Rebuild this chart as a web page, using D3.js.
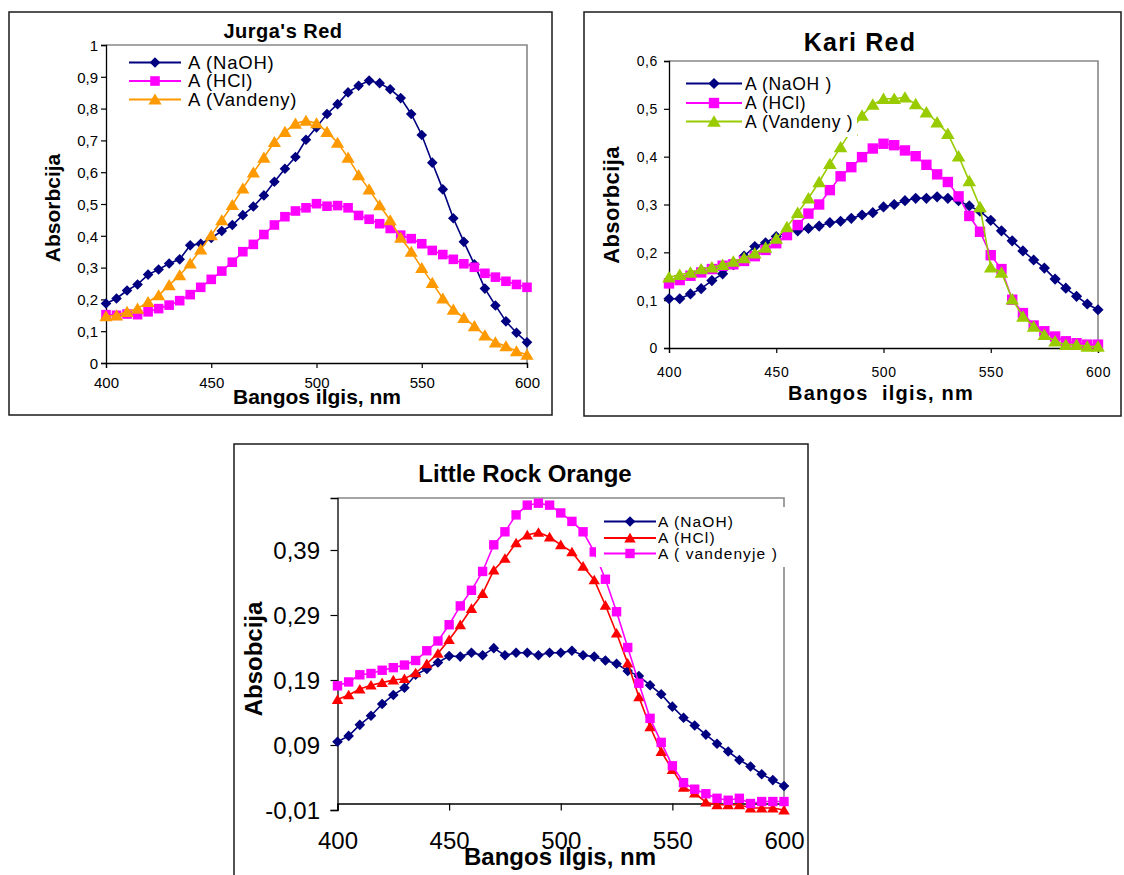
<!DOCTYPE html>
<html>
<head>
<meta charset="utf-8">
<script src="https://cdn.jsdelivr.net/npm/d3@7"></script>
<style>
  html, body { margin: 0; padding: 0; background: #fff; }
  svg { display: block; }
  text { font-family: "Liberation Sans", Arial, sans-serif; fill: #000; }
</style>
</head>
<body>
<svg id="chart" width="1124" height="875"></svg>
<script>
// Wavelength grid, nm
const wavelengths = [400, 405, 410, 415, 420, 425, 430, 435, 440, 445, 450, 455, 460, 465, 470, 475, 480,
  485, 490, 495, 500, 505, 510, 515, 520, 525, 530, 535, 540, 545, 550, 555, 560, 565, 570, 575, 580,
  585, 590, 595, 600];
const xTicks = [400, 450, 500, 550, 600];

// Jurga's Red absorbance
const jurgaNaOH = [0.187, 0.203, 0.228, 0.247, 0.278, 0.294, 0.313, 0.326, 0.370, 0.375, 0.393, 0.415, 0.434,
  0.465, 0.492, 0.527, 0.570, 0.611, 0.648, 0.702, 0.741, 0.783, 0.814, 0.851, 0.872, 0.888, 0.880, 0.861,
  0.833, 0.783, 0.717, 0.630, 0.546, 0.455, 0.381, 0.310, 0.234, 0.181, 0.131, 0.095, 0.065];
const jurgaHCl = [0.152, 0.150, 0.154, 0.152, 0.161, 0.171, 0.182, 0.196, 0.215, 0.238, 0.263, 0.289, 0.317,
  0.350, 0.373, 0.404, 0.434, 0.460, 0.478, 0.488, 0.501, 0.493, 0.495, 0.488, 0.464, 0.452, 0.438, 0.423,
  0.402, 0.391, 0.375, 0.354, 0.341, 0.326, 0.312, 0.301, 0.282, 0.270, 0.257, 0.247, 0.238];
const jurgaVandeny = [0.147, 0.150, 0.161, 0.171, 0.192, 0.213, 0.245, 0.276, 0.313, 0.357, 0.402, 0.449, 0.497,
  0.549, 0.599, 0.646, 0.695, 0.727, 0.753, 0.762, 0.754, 0.727, 0.693, 0.646, 0.591, 0.546, 0.496, 0.449,
  0.394, 0.350, 0.299, 0.252, 0.203, 0.168, 0.142, 0.116, 0.087, 0.065, 0.053, 0.037, 0.026];
const jurgaYTicks = [0, 0.1, 0.2, 0.3, 0.4, 0.5, 0.6, 0.7, 0.8, 0.9, 1];
const jurgaLegend = ["A (NaOH)", "A (HCl)", "A (Vandeny)"];

// Kari Red absorbance
const kariNaOH = [0.103, 0.103, 0.113, 0.124, 0.141, 0.155, 0.174, 0.192, 0.212, 0.220, 0.233, 0.243, 0.245,
  0.250, 0.255, 0.262, 0.265, 0.271, 0.278, 0.283, 0.295, 0.300, 0.308, 0.313, 0.313, 0.316, 0.313, 0.308,
  0.297, 0.286, 0.267, 0.245, 0.224, 0.203, 0.184, 0.167, 0.144, 0.125, 0.108, 0.092, 0.080];
const kariHCl = [0.135, 0.142, 0.151, 0.158, 0.165, 0.172, 0.175, 0.182, 0.192, 0.205, 0.219, 0.236, 0.257,
  0.281, 0.300, 0.330, 0.359, 0.378, 0.399, 0.417, 0.427, 0.424, 0.413, 0.401, 0.383, 0.363, 0.347, 0.317,
  0.276, 0.243, 0.194, 0.165, 0.101, 0.073, 0.047, 0.035, 0.024, 0.014, 0.010, 0.007, 0.007];
const kariVandeny = [0.148, 0.153, 0.158, 0.165, 0.169, 0.174, 0.181, 0.188, 0.198, 0.210, 0.229, 0.253, 0.283,
  0.313, 0.347, 0.385, 0.420, 0.455, 0.486, 0.509, 0.521, 0.521, 0.524, 0.510, 0.493, 0.472, 0.448, 0.401,
  0.349, 0.295, 0.169, 0.158, 0.102, 0.066, 0.045, 0.028, 0.014, 0.007, 0.007, 0.003, 0.003];
const kariYTicks = [0, 0.1, 0.2, 0.3, 0.4, 0.5, 0.6];
const kariLegend = ["A (NaOH )", "A (HCl)", "A (Vandeny )"];

// Little Rock Orange absorbance
const lroNaOH = [0.095, 0.104, 0.121, 0.135, 0.153, 0.167, 0.178, 0.198, 0.207, 0.217, 0.227, 0.226, 0.232,
  0.228, 0.239, 0.228, 0.232, 0.232, 0.228, 0.232, 0.232, 0.235, 0.228, 0.226, 0.220, 0.215, 0.204, 0.196,
  0.182, 0.168, 0.149, 0.132, 0.120, 0.106, 0.092, 0.080, 0.067, 0.057, 0.045, 0.036, 0.027];
const lroHCl = [0.160, 0.167, 0.176, 0.182, 0.186, 0.190, 0.192, 0.201, 0.215, 0.231, 0.252, 0.275, 0.300,
  0.323, 0.359, 0.377, 0.401, 0.413, 0.417, 0.410, 0.398, 0.387, 0.365, 0.344, 0.305, 0.262, 0.216, 0.164,
  0.118, 0.080, 0.052, 0.025, 0.016, 0.002, -0.002, -0.002, -0.002, -0.007, -0.007, -0.007, -0.010];
const lroVandenyje = [0.181, 0.187, 0.198, 0.200, 0.205, 0.209, 0.213, 0.220, 0.235, 0.250, 0.275, 0.304, 0.328,
  0.357, 0.398, 0.418, 0.444, 0.459, 0.462, 0.459, 0.447, 0.434, 0.418, 0.387, 0.345, 0.295, 0.240, 0.185,
  0.131, 0.094, 0.058, 0.032, 0.022, 0.015, 0.008, 0.005, 0.008, 0.000, 0.003, 0.003, 0.003];
const lroYTicks = [-0.01, 0.09, 0.19, 0.29, 0.39];
const lroLegend = ["A (NaOH)", "A (HCl)", "A ( vandenyje )"];

const svg = d3.select("#chart");
const decimalComma = d => String(d).replace(".", ",");

// marker shapes, centred on the origin
const markerPath = {
  diamond: r => `M0,${-r}L${r},0L0,${r}L${-r},0Z`,
  square: r => `M${-r},${-r}H${r}V${r}H${-r}Z`,
  triangle: r => `M0,${-r * 1.0}L${r * 1.1},${r * 0.85}L${-r * 1.1},${r * 0.85}Z`
};

function drawPanel(o) {
  const g = svg.append("g");

  // outer frame
  g.append("rect")
    .attr("x", o.frame[0]).attr("y", o.frame[1])
    .attr("width", o.frame[2] - o.frame[0]).attr("height", o.frame[3] - o.frame[1])
    .attr("fill", "#fff").attr("stroke", "#1a1a1a").attr("stroke-width", 1.5);

  const x = d3.scaleLinear().domain([400, 600]).range([o.left, o.right]);
  const y = d3.scaleLinear().domain(o.yDomain).range([o.bottom, o.top]);

  // grey plot-area border (top and right)
  g.append("path")
    .attr("d", `M${o.left},${o.top}H${o.right}V${y(0)}`)
    .attr("fill", "none").attr("stroke", "#888").attr("stroke-width", 1.6);

  // value axis
  const yAxis = g.append("g")
    .attr("transform", `translate(${o.left},0)`)
    .call(d3.axisLeft(y).tickValues(o.yTicks).tickFormat(decimalComma).tickSizeOuter(0).tickSize(o.tick));
  yAxis.select(".domain").attr("stroke", "#000").attr("stroke-width", 1.3);
  yAxis.selectAll(".tick line").attr("stroke", "#000").attr("stroke-width", 1.2);
  yAxis.selectAll(".tick text")
    .attr("x", o.yLabelX - o.left).attr("dy", "0.35em")
    .attr("font-size", o.tickFont).attr("letter-spacing", o.tickSpacing)
    .style("font-family", "'Liberation Sans', Arial, sans-serif");

  // wavelength axis, crossing at zero
  const xAxis = g.append("g")
    .attr("transform", `translate(0,${y(0)})`)
    .call(d3.axisBottom(x).tickValues(xTicks).tickFormat(d3.format("d")).tickSizeOuter(0).tickSize(o.tick));
  xAxis.select(".domain").attr("stroke", "#000").attr("stroke-width", 1.3);
  xAxis.selectAll(".tick line").attr("stroke", "#000").attr("stroke-width", 1.2);
  xAxis.selectAll(".tick text")
    .attr("y", o.xLabelBase - y(0)).attr("dy", null)
    .attr("font-size", o.xTickFont).attr("letter-spacing", o.tickSpacing)
    .style("font-family", "'Liberation Sans', Arial, sans-serif");

  // series: line, then markers
  const line = d3.line().x((d, i) => x(wavelengths[i])).y(d => y(d));
  o.series.forEach(s => {
    g.append("path").datum(s.values)
      .attr("d", line).attr("fill", "none")
      .attr("stroke", s.color).attr("stroke-width", 1.6);
    g.append("g").selectAll("path").data(s.values).join("path")
      .attr("transform", (d, i) => `translate(${x(wavelengths[i])},${y(d)})`)
      .attr("d", markerPath[s.shape](s.r))
      .attr("fill", s.color);
  });

  // legend on a white box
  const lg = g.append("g");
  lg.append("rect")
    .attr("x", o.legend.box[0]).attr("y", o.legend.box[1])
    .attr("width", o.legend.box[2] - o.legend.box[0]).attr("height", o.legend.box[3] - o.legend.box[1])
    .attr("fill", "#fff");
  o.series.forEach((s, i) => {
    const ly = o.legend.rows[i];
    lg.append("line")
      .attr("x1", o.legend.x0).attr("x2", o.legend.x1).attr("y1", ly).attr("y2", ly)
      .attr("stroke", s.color).attr("stroke-width", 1.8);
    lg.append("path")
      .attr("transform", `translate(${(o.legend.x0 + o.legend.x1) / 2},${ly})`)
      .attr("d", markerPath[s.shape](s.r)).attr("fill", s.color);
    lg.append("text")
      .attr("x", o.legend.tx).attr("y", ly).attr("dy", "0.35em")
      .attr("font-size", o.legend.font).attr("letter-spacing", o.legend.spacing)
      .text(o.legendLabels[i]);
  });

  // titles
  g.append("text")
    .attr("x", o.title.x).attr("y", o.title.y).attr("text-anchor", "middle")
    .attr("font-size", o.title.size).attr("font-weight", "bold").attr("letter-spacing", o.title.spacing)
    .text(o.title.text);
  g.append("text")
    .attr("x", o.xTitle.x).attr("y", o.xTitle.y).attr("text-anchor", "middle")
    .attr("font-size", o.xTitle.size).attr("font-weight", "bold").attr("letter-spacing", o.xTitle.spacing)
    .attr("xml:space", "preserve").style("white-space", "pre")
    .text(o.xTitle.text);
  g.append("text")
    .attr("transform", `translate(${o.yTitle.x},${o.yTitle.y}) rotate(-90)`)
    .attr("text-anchor", "middle").attr("dy", "0.35em")
    .attr("font-size", o.yTitle.size).attr("font-weight", "bold").attr("letter-spacing", o.yTitle.spacing)
    .text(o.yTitle.text);
}

// Jurga's Red
drawPanel({
  frame: [9, 12, 552, 415],
  left: 106, right: 527, top: 45, bottom: 363, yDomain: [0, 1], yTicks: jurgaYTicks,
  tick: 5, tickFont: 15, xTickFont: 15, tickSpacing: 0, yLabelX: 98, xLabelBase: 388,
  series: [
    { values: jurgaNaOH, color: "#000080", shape: "diamond", r: 5.3 },
    { values: jurgaHCl, color: "#ff00ff", shape: "square", r: 4.8 },
    { values: jurgaVandeny, color: "#ff9900", shape: "triangle", r: 6 }
  ],
  legendLabels: jurgaLegend,
  legend: { box: [124, 50, 318, 110], rows: [62.5, 81, 99.5], x0: 129, x1: 181, tx: 188, font: 18.5, spacing: 0.8 },
  title: { text: "Jurga's Red", x: 283, y: 38, size: 20, spacing: 0.5 },
  xTitle: { text: "Bangos ilgis, nm", x: 317, y: 404, size: 21, spacing: 0 },
  yTitle: { text: "Absorbcija", x: 53, y: 208, size: 21, spacing: 0 }
});

// Kari Red
drawPanel({
  frame: [584, 12, 1121, 416],
  left: 669, right: 1098, top: 61, bottom: 348, yDomain: [0, 0.6], yTicks: kariYTicks,
  tick: 5, tickFont: 14, xTickFont: 14, tickSpacing: 0.6, yLabelX: 658, xLabelBase: 377,
  series: [
    { values: kariNaOH, color: "#000080", shape: "diamond", r: 5.6 },
    { values: kariHCl, color: "#ff00ff", shape: "square", r: 5.2 },
    { values: kariVandeny, color: "#99cc00", shape: "triangle", r: 6.2 }
  ],
  legendLabels: kariLegend,
  legend: { box: [681, 70, 857, 137], rows: [83.5, 103, 121.5], x0: 686, x1: 742, tx: 745, font: 17.5, spacing: 0.7 },
  title: { text: "Kari Red", x: 860, y: 50.5, size: 25, spacing: 1.2 },
  xTitle: { text: "Bangos  ilgis, nm", x: 881, y: 400, size: 20, spacing: 1.2 },
  yTitle: { text: "Absorbcija", x: 611, y: 205, size: 22, spacing: 0.4 }
});

// Little Rock Orange
drawPanel({
  frame: [234, 444, 808, 890],
  left: 337.5, right: 784, top: 498, bottom: 810, yDomain: [-0.01, 0.47], yTicks: lroYTicks,
  tick: 7, tickFont: 24, xTickFont: 24, tickSpacing: 0, yLabelX: 320, xLabelBase: 849,
  series: [
    { values: lroNaOH, color: "#000080", shape: "diamond", r: 5.3 },
    { values: lroHCl, color: "#ff0000", shape: "triangle", r: 5.2 },
    { values: lroVandenyje, color: "#ff00ff", shape: "square", r: 4.7 }
  ],
  legendLabels: lroLegend,
  legend: { box: [596, 507, 790, 567], rows: [521.5, 538, 553.5], x0: 604, x1: 656, tx: 658, font: 15.5, spacing: 1.1 },
  title: { text: "Little Rock Orange", x: 525, y: 482, size: 24, spacing: 0 },
  xTitle: { text: "Bangos ilgis, nm", x: 560, y: 865, size: 24, spacing: 0 },
  yTitle: { text: "Absobcija", x: 254, y: 659, size: 24, spacing: 0 }
});
</script>
</body>
</html>
